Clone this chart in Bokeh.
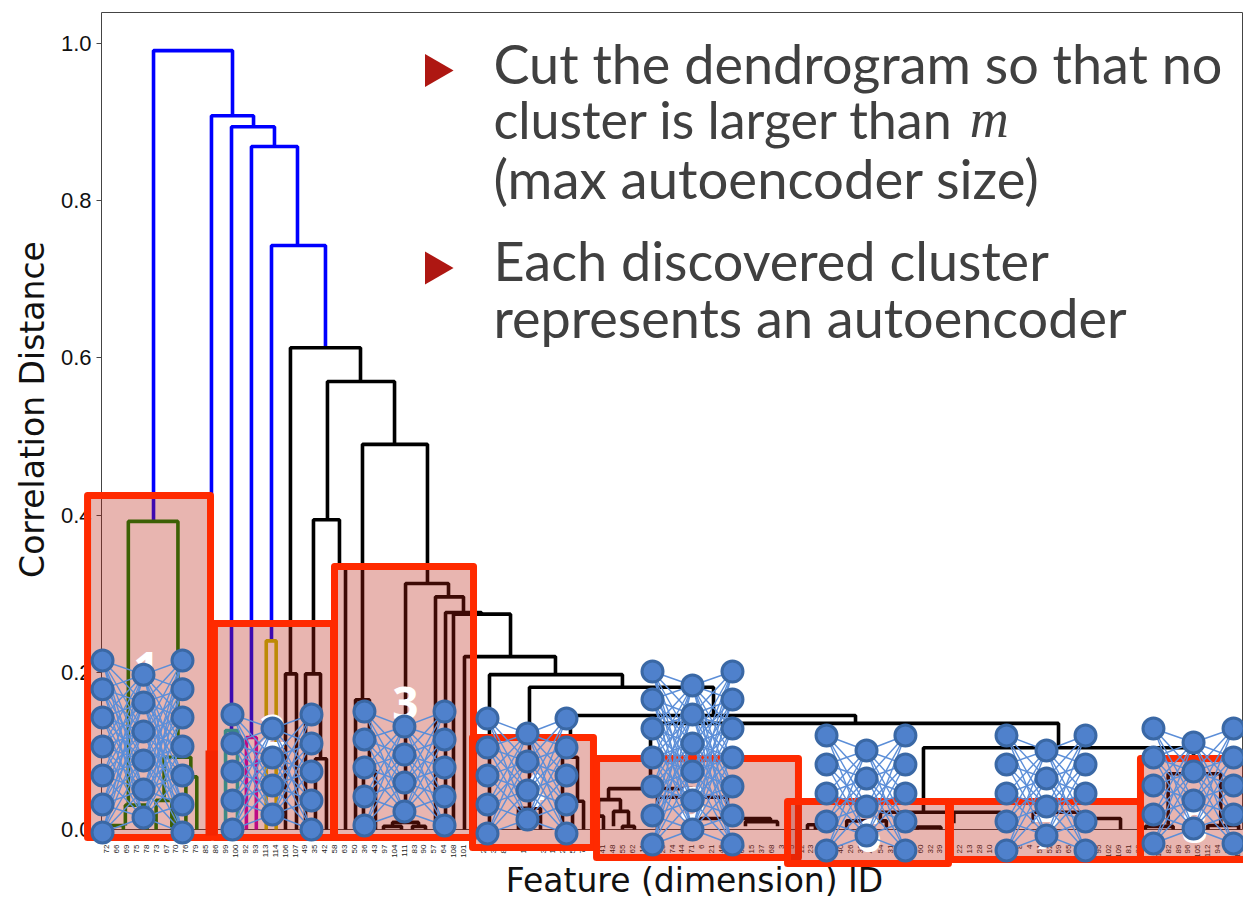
import math
from bokeh.plotting import figure
from bokeh.models import Range1d, LinearAxis, FixedTicker, NumeralTickFormatter
from bokeh.core.properties import value
from bokeh.embed import file_html
from bokeh.resources import INLINE

# ---------- data ----------
leaf_labels = [72,66,69,75,78,73,67,70,76,79,85,86,99,100,92,93,113,114,106,107,49,35,42,58,63,50,36,43,97,104,111,83,90,57,64,108,101,
               0,27,34,84,1,17,9,30,16,20,56,77,7,41,48,55,62,11,18,25,74,44,71,6,21,46,53,61,15,37,68,3,5,12,23,2,19,40,26,33,47,54,31,38,24,
               60,32,39,45,22,13,28,10,14,29,8,4,51,52,59,65,80,87,95,102,109,81,88,91,110,82,89,96,105,112,94,98,103]
y_ticks = [0.0, 0.2, 0.4, 0.6, 0.8, 1.0]
x_title = "Feature (dimension) ID"
y_title = "Correlation Distance"

# dendrogram links: left leg x, right leg x, top height, left-leg bottom, right-leg bottom
blue = "#0000ff"; black = "#000000"; green = "#008000"; cyan = "#00bfbf"; magenta = "#bf00bf"; yellow = "#bfbf00"
link_left = [4.74,10.58,12.6,14.61,16.63, 18.54,22.27,25.8,20.86,18.04,20.06,21.06,23.0,25.1,25.9,30.14,28.83,27.92,30.84,33.16,34.17,34.97,36.08,
             38.6,42.63,41.52,46.76,45.96,46.97,54.83,82.34,50.6,49.59,49.18,51.1,52.0,55.53,59.36,64.4,
             78.0,85.4,93.4,98.2,70.65,74.6,81.7,107.0,104.7,111.0,
             2.2,-0.3,1.9,5.8,8.0,7.0,5.0, 12.0,14.1,16.1]
link_right = [12.70,14.82,16.93,19.25,22.07, 25.6,29.03,32.35,23.48,19.15,21.57,22.17,24.09,26.5,27.11,34.47,31.45,29.73,32.15,35.98,37.79,40.72,45.25,
              52.0,61.18,43.74,75.49,47.47,48.08,95.95,109.56,59.06,51.8,50.09,52.61,53.21,62.58,66.92,67.63,
              84.8,90.1,98.2,102.2,71.45,78.6,84.1,112.3,107.5,114.1,
              7.2,1.7,4.1,8.5,9.1,6.6,6.6, 13.2,15.1,17.1]
link_top = [.991,.908,.894,.869,.743, .613,.570,.490,.394,.198,.198,.090,.335,.165,.075,.313,.009,.004,.004,.296,.276,.274,.220,
            .197,.181,.027,.145,.092,.036,.135,.104,.052,.038,.017,.023,.004,.041,.014,.010,
            .022,.022,.022,.014,.006,.011,.003,.071,.004,.005,
            .392,.005,.031,.092,.067,.037,.037, .126,.117,.240]
link_low_l = [.392,.10,.126,.117,.240, .198,.394,.165,.198,0,0,0,0,0,0,.009,.004,0,0,0,0,0,0,
              0,.027,0,.092,0,0,.052,.022,.038,.017,0,.004,0,0,0,.004,
              .008,.008,.008,0,0,0,0,.006,0,0,
              .031,0,.005,.037,0,0,0, 0,0,0]
link_low_r = [.908,.894,.869,.743,.613, .570,.490,.313,.335,0,.090,0,0,.075,0,.296,.004,0,0,.276,.274,.220,.197,
              .181,.145,0,.135,.036,0,.104,.071,.041,.023,0,.004,0,.014,.010,.004,
              .008,.008,.008,0,0,0,0,.006,0,0,
              .092,0,0,.067,0,0,0, 0,0,0]
link_color = [blue]*5 + [black]*44 + [green]*7 + [cyan,magenta,yellow]

# cluster boxes
box_left = [-1.91,10.88,22.98,36.89,49.39,68.64,85.06,104.21]
box_right = [10.48,22.88,36.99,49.08,69.74,84.86,104.21,115.3]
box_top = [.4249,.2621,.3346,.1170,.0903,.0356,.0356,.0903]
box_bottom = [-.0102,-.0102,-.0102,-.0229,-.0356,-.0433,-.0382,-.0382]
bar_left = [9.98]; bar_right = [11.19]; bar_top = [.1005]; bar_bottom = [-.0076]

cluster_names = ["1","2","3","4","5","6","7","8"]
cluster_x = [4.03,16.73,30.13,42.84,59.06,76.8,94.74,109.66]
cluster_y = [.2048,.1247,.1603,.0496,.033,-.0076,-.0038,.0038]

# autoencoder sketches: column x, outer-column y, middle-column y
net_x = [(-0.40,3.73,7.66),(12.70,16.73,20.66),(26.0,30.03,34.07),(38.4,42.43,46.36),
         (55.03,59.06,63.09),(72.57,76.6,80.52),(90.71,94.74,98.67),(105.52,109.56,113.59)]
net_outer = [[.215,.1785,.1425,.1056,.0687,.0318,-.0038],
             [.1463,.1094,.0738,.0369,0],
             [.1501,.1145,.0789,.042,.0051],
             [.1412,.1043,.0687,.0318,-.0051],
             [.201,.1654,.1285,.0916,.0547,.0178,-.0191],
             [.1196,.0827,.0458,.0102,-.0267],
             [.1196,.0827,.0458,.0102,-.0267],
             [.1285,.0916,.056,.0191,-.0178]]
net_mid = [[.197,.1616,.1247,.0878,.0509,.0153],
           [.1285,.0916,.056,.0191],
           [.131,.0954,.0598,.0229],
           [.1221,.0865,.0496,.0127],
           [.1832,.1463,.1094,.0738,.0369,0],
           [.1005,.0649,.0293,-.0076],
           [.1005,.0649,.0293,-.0076],
           [.1107,.0738,.0369,.0013]]

bullet_lines = ["Cut the dendrogram so that no","cluster is larger than","(max autoencoder size)","Each discovered cluster","represents an autoencoder"]
bullet_sizes = ["54px","52px","54.5px","54px","54px"]
bullet_line_x = [39.0]*5
bullet_line_y = [.9745,.904,.8295,.7245,.6515]
math_text = ["m"]; math_x = [87.0]; math_y = [.904]
marker_x = [33.06,33.06]; marker_y = [.9656,.7144]

# ---------- figure ----------
p = figure(width=1243, height=902, output_backend="svg", toolbar_location=None,
           x_axis_type=None, y_axis_type=None,
           x_range=Range1d(-10.683,114.594), y_range=Range1d(-0.09288,1.05471),
           min_border=0, outline_line_color=None, background_fill_color="white")

spine = "#444444"
x_end = 114.5; x_start = -0.5; y_end = 1.0394

def quiet(ax):
    ax.level = "underlay"
    ax.major_tick_line_color = None
    ax.minor_tick_line_color = None
    return ax

xa = quiet(LinearAxis(fixed_location=0, bounds=(x_start,x_end), ticker=FixedTicker(ticks=list(range(len(leaf_labels))))))
xa.major_label_overrides = {i:str(v) for i,v in enumerate(leaf_labels)}
xa.major_label_orientation = math.pi/2
xa.major_label_text_font_size = "8px"
xa.major_label_text_color = "#222222"
xa.major_label_standoff = 9
xa.axis_line_color = spine
p.add_layout(xa,"below")

ya = LinearAxis(fixed_location=x_start, bounds=(0,y_end), ticker=FixedTicker(ticks=y_ticks),
                formatter=NumeralTickFormatter(format="0.0"))
ya.level = "underlay"
ya.minor_tick_line_color = None
ya.major_tick_in = 0; ya.major_tick_out = 5
ya.major_tick_line_color = spine
ya.major_label_text_font_size = "22px"
ya.major_label_text_color = "#111111"
ya.major_label_standoff = 5
ya.axis_line_color = spine
p.add_layout(ya,"left")

for side,loc,bnd in (("above",y_end,(x_start,x_end)),("right",x_end,(0,y_end))):
    a = quiet(LinearAxis(fixed_location=loc,bounds=bnd,ticker=FixedTicker(ticks=[])))
    a.axis_line_color = spine
    p.add_layout(a,side)

xt = quiet(LinearAxis(fixed_location=0,bounds=(3.93,114.59),ticker=FixedTicker(ticks=[]),axis_label=x_title))
xt.axis_line_color=None; xt.axis_label_text_font_size="33px"; xt.axis_label_text_font_style="normal"
xt.axis_label_text_font="DejaVu Sans"; xt.axis_label_text_color="#111111"; xt.axis_label_standoff=31
p.add_layout(xt,"below")

yt = quiet(LinearAxis(fixed_location=x_start,bounds=(0.014,1.0547),ticker=FixedTicker(ticks=[]),axis_label=y_title))
yt.axis_line_color=None; yt.axis_label_text_font_size="33px"; yt.axis_label_text_font_style="normal"
yt.axis_label_text_font="DejaVu Sans"; yt.axis_label_text_color="#111111"; yt.axis_label_standoff=50
p.add_layout(yt,"left")

# dendrogram
p.multi_line(xs=[[l,l,r,r] for l,r in zip(link_left,link_right)],
             ys=[[a,t,t,b] for a,t,b in zip(link_low_l,link_top,link_low_r)],
             line_color=link_color, line_width=3.6)

# cluster boxes
p.quad(left=box_left,right=box_right,top=box_top,bottom=box_bottom,
       fill_color="#b91e0f",fill_alpha=0.33,line_color="#ff2a00",line_width=7,line_join="round")
p.quad(left=bar_left,right=bar_right,top=bar_top,bottom=bar_bottom,fill_color="#f52500",line_color=None)

p.text(x=cluster_x,y=cluster_y,text=cluster_names,text_color="white",text_font=value("Open Sans"),
       text_font_style="bold",text_font_size="46px",text_align="center",text_baseline="middle")

# autoencoders
ex=[];ey=[];nx=[];ny=[]
for (xl,xm,xr),o,m in zip(net_x,net_outer,net_mid):
    for yo in o:
        for ym in m:
            ex += [[xl,xm],[xm,xr]]; ey += [[yo,ym],[ym,yo]]
    nx += [xl]*len(o)+[xm]*len(m)+[xr]*len(o)
    ny += o+m+o
p.multi_line(xs=ex,ys=ey,line_color="#5b8ed8",line_width=1.4)
p.scatter(x=nx,y=ny,size=21,fill_color="#4f81cc",line_color="#3a68a5",line_width=3)

# bullets
p.scatter(x=marker_x,y=marker_y,marker="triangle",size=33,angle=-math.pi/2,fill_color="#ae1712",line_color=None)
p.text(x=bullet_line_x,y=bullet_line_y,text=bullet_lines,text_color="#404040",text_font=value("Lato"),
       text_font_size=bullet_sizes,text_baseline="alphabetic",text_align="left")
p.text(x=math_x,y=math_y,text=math_text,text_color="#404040",text_font=value("Liberation Serif"),
       text_font_style="italic",text_font_size="54px",text_baseline="alphabetic",text_align="left")

open("out.html","w").write(file_html(p,INLINE))
